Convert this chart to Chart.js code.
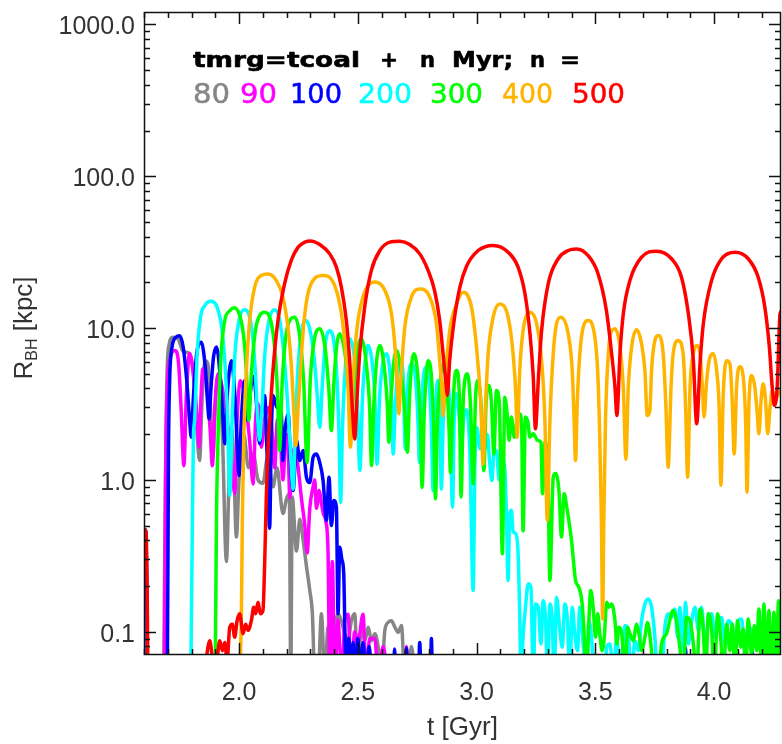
<!DOCTYPE html>
<html><head><meta charset="utf-8">
<script src="https://cdn.jsdelivr.net/npm/chart.js@4.4.0/dist/chart.umd.min.js"></script>
<style>html,body{margin:0;padding:0;background:#fff}#wrap{width:782px;height:744px}</style>
</head><body><div id="wrap"><canvas id="c" width="782" height="744"></canvas></div>
<script>
// ---- data: [t (Gyr), R_BH (kpc)] ----
const legendTitle = 'tmrg=tcoal + n Myr; n =';
const nLabels = ['80','90','100','200','300','400','500'];
const xTickValues = [2.0, 2.5, 3.0, 3.5, 4.0];
const yTickValues = [0.1, 1, 10, 100, 1000];
const xRange = [1.6, 4.282];
const yRange = [0.0702, 1207];

const s500 = [[1.600,0.38],[1.603,0.47],[1.609,0.45],[1.613,0.2],[1.618,0.04],[1.850,0.04],[1.862,0.065],[1.877,0.087],[1.891,0.065],[1.905,0.065],[1.919,0.087],[1.930,0.075],[1.940,0.085],[1.950,0.065],[1.961,0.107],[1.972,0.112],[1.982,0.092],[1.992,0.118],[2.003,0.131],[2.017,0.097],[2.028,0.112],[2.038,0.102],[2.052,0.118],[2.062,0.145],[2.070,0.131],[2.080,0.156],[2.090,0.131],[2.101,0.138],[2.108,0.28],[2.115,0.77],[2.122,1.6],[2.129,2.46],[2.143,5.25],[2.164,11.2],[2.192,19.6],[2.220,27.9],[2.249,34.1],[2.277,36.8],[2.300,37.5],[2.340,35.5],[2.382,30.8],[2.410,25.2],[2.431,18.6],[2.452,11.2],[2.466,6.1],[2.477,3.0],[2.487,1.86],[2.497,3.5],[2.508,6.76],[2.529,13.7],[2.557,23.9],[2.593,32.4],[2.635,36.8],[2.677,37.3],[2.719,35.5],[2.761,30.8],[2.796,24.0],[2.824,17.5],[2.845,11.2],[2.862,6.1],[2.873,4.1],[2.877,3.6],[2.887,6.1],[2.905,11],[2.930,18.6],[2.958,25.5],[3.007,32.4],[3.070,35.0],[3.133,31.6],[3.175,25.2],[3.204,16.8],[3.225,9.2],[3.239,4.75],[3.248,2.17],[3.260,4.51],[3.274,9.6],[3.302,19.6],[3.344,28.6],[3.386,32.4],[3.421,33.2],[3.470,30.0],[3.512,22.7],[3.547,13.0],[3.569,6.76],[3.583,4.08],[3.591,2.65],[3.604,6.76],[3.618,12.4],[3.646,20.6],[3.695,29.3],[3.758,32.1],[3.821,28.6],[3.863,21.6],[3.892,12.4],[3.913,6.1],[3.927,2.34],[3.941,5.81],[3.955,10.7],[3.990,20.6],[4.032,28.6],[4.088,31.6],[4.144,28.6],[4.186,21.6],[4.214,13.7],[4.233,7.48],[4.245,4.08],[4.254,3.09],[4.266,4.08],[4.278,12.4],[4.285,13.0]];

const s400 = [[1.995,0.04],[2.007,0.079],[2.010,0.128],[2.014,0.54],[2.020,1.91],[2.031,5.25],[2.045,11.2],[2.066,18.6],[2.094,22.2],[2.122,22.7],[2.157,20.6],[2.185,16.0],[2.206,10.1],[2.220,5.81],[2.230,3.01],[2.239,1.68],[2.249,3.01],[2.263,6.76],[2.277,12.4],[2.300,19.0],[2.354,22.2],[2.396,20.1],[2.424,14.4],[2.445,8.28],[2.459,4.08],[2.469,1.64],[2.480,4.3],[2.494,9.16],[2.522,16.0],[2.572,20.1],[2.614,17.7],[2.642,12.4],[2.659,6.76],[2.667,4.08],[2.673,2.72],[2.681,4.51],[2.698,10.1],[2.726,16.0],[2.761,18.1],[2.803,16.0],[2.831,10.7],[2.845,6.1],[2.855,3.69],[2.859,2.65],[2.868,4.51],[2.887,9.6],[2.916,14.4],[2.944,17.2],[2.979,13.7],[3.000,7.48],[3.018,3.17],[3.028,1.27],[3.038,3.17],[3.049,6.76],[3.070,11.8],[3.098,14.4],[3.133,11.8],[3.154,6.76],[3.166,3.5],[3.171,1.91],[3.182,5.25],[3.196,9.6],[3.225,12.7],[3.253,10.7],[3.274,6.1],[3.288,2.46],[3.298,0.54],[3.309,2.46],[3.323,6.76],[3.337,10.7],[3.355,11.8],[3.386,9.16],[3.403,5.25],[3.411,2.46],[3.417,1.34],[3.424,3.17],[3.435,6.76],[3.449,10.1],[3.470,11.2],[3.496,9.16],[3.510,5.25],[3.519,1.91],[3.526,0.54],[3.531,0.121],[3.536,0.54],[3.543,2.46],[3.555,6.76],[3.569,9.6],[3.583,9.88],[3.604,7.48],[3.618,4.08],[3.629,1.37],[3.639,4.08],[3.653,7.48],[3.674,9.73],[3.695,7.87],[3.709,5.25],[3.719,2.65],[3.730,2.86],[3.737,5.25],[3.751,8.28],[3.765,8.93],[3.786,6.76],[3.797,3.17],[3.807,1.21],[3.819,4.08],[3.828,6.76],[3.849,8.28],[3.870,6.76],[3.880,3.17],[3.889,1.04],[3.899,4.08],[3.913,6.76],[3.927,7.67],[3.941,6.76],[3.951,4.08],[3.958,2.59],[3.969,4.51],[3.983,6.43],[3.997,6.76],[4.011,5.25],[4.021,3.17],[4.029,0.92],[4.039,3.69],[4.053,6.1],[4.067,5.81],[4.077,3.17],[4.085,1.48],[4.095,4.08],[4.109,5.55],[4.123,4.75],[4.133,2.46],[4.139,0.83],[4.147,3.17],[4.158,4.86],[4.172,4.08],[4.182,2.72],[4.189,2.01],[4.198,3.33],[4.207,4.29],[4.217,3.33],[4.226,2.01],[4.236,3.01],[4.245,3.88],[4.257,3.33],[4.271,3.69],[4.285,3.88]];

const s300 = [[1.895,0.04],[1.900,0.06],[1.905,0.54],[1.912,1.91],[1.923,6.1],[1.940,11.2],[1.961,13.0],[1.979,13.6],[2.003,12.1],[2.020,8.7],[2.031,5.25],[2.041,2.46],[2.052,4.99],[2.069,9.6],[2.087,12.1],[2.108,12.7],[2.129,11.8],[2.147,8.28],[2.161,4.08],[2.171,1.56],[2.181,4.08],[2.195,8.28],[2.213,11.2],[2.235,11.8],[2.255,9.0],[2.272,4.5],[2.287,1.3],[2.300,4.5],[2.318,8.5],[2.340,9.88],[2.362,7.5],[2.378,4.0],[2.389,2.11],[2.400,4.5],[2.412,7.8],[2.424,9.16],[2.445,7.0],[2.462,4.0],[2.473,2.4],[2.485,4.5],[2.498,7.2],[2.515,8.5],[2.535,6.0],[2.550,3.0],[2.558,1.24],[2.568,3.2],[2.580,6.2],[2.593,7.67],[2.610,5.8],[2.624,3.2],[2.631,1.77],[2.640,3.5],[2.652,6.0],[2.663,7.1],[2.680,5.5],[2.697,3.0],[2.709,1.52],[2.718,3.5],[2.727,5.8],[2.736,6.76],[2.752,5.0],[2.763,2.5],[2.771,0.89],[2.780,2.8],[2.790,5.2],[2.796,6.1],[2.810,4.8],[2.820,2.2],[2.827,0.75],[2.836,2.5],[2.850,5.0],[2.862,5.8],[2.876,4.0],[2.885,2.0],[2.890,1.12],[2.898,2.5],[2.910,5.0],[2.916,5.25],[2.928,3.5],[2.935,0.77],[2.945,3.6],[2.962,4.99],[2.975,3.0],[2.986,0.94],[2.996,3.5],[3.007,4.51],[3.020,3.0],[3.031,1.15],[3.041,3.4],[3.052,4.18],[3.063,3.2],[3.073,1.48],[3.084,3.88],[3.096,3.2],[3.109,0.326],[3.119,3.5],[3.130,2.6],[3.137,1.82],[3.147,2.59],[3.159,1.91],[3.170,2.4],[3.182,2.72],[3.190,2.3],[3.196,0.46],[3.206,2.59],[3.216,2.4],[3.225,1.91],[3.239,2.01],[3.257,1.82],[3.271,1.77],[3.278,0.81],[3.288,1.77],[3.299,1.48],[3.309,0.217],[3.323,1.04],[3.333,1.1],[3.347,0.85],[3.358,0.42],[3.369,0.81],[3.380,0.66],[3.400,0.40],[3.417,0.217],[3.431,0.196],[3.445,0.152],[3.453,0.097],[3.463,0.05],[3.473,0.118],[3.481,0.187],[3.491,0.145],[3.501,0.092],[3.510,0.131],[3.519,0.097],[3.529,0.075],[3.538,0.092],[3.548,0.156],[3.557,0.145],[3.569,0.152],[3.583,0.118],[3.591,0.083],[3.599,0.107],[3.613,0.092],[3.625,0.05],[3.636,0.107],[3.646,0.097],[3.660,0.087],[3.674,0.112],[3.684,0.097],[3.695,0.075],[3.709,0.092],[3.720,0.115],[3.734,0.083],[3.748,0.05],[3.765,0.05],[3.779,0.083],[3.800,0.097],[3.828,0.138],[3.842,0.118],[3.856,0.079],[3.870,0.05],[3.884,0.124],[3.899,0.118],[3.913,0.083],[3.927,0.05],[3.941,0.141],[3.955,0.102],[3.965,0.05],[3.976,0.131],[3.990,0.102],[4.001,0.05],[4.015,0.131],[4.029,0.087],[4.039,0.05],[4.053,0.112],[4.067,0.075],[4.077,0.112],[4.088,0.05],[4.099,0.118],[4.113,0.079],[4.123,0.104],[4.133,0.05],[4.144,0.121],[4.158,0.071],[4.170,0.110],[4.179,0.075],[4.189,0.141],[4.200,0.05],[4.210,0.152],[4.221,0.05],[4.231,0.138],[4.243,0.05],[4.252,0.134],[4.264,0.05],[4.271,0.16],[4.280,0.05]];

const s200 = [[1.797,0.05],[1.803,0.4],[1.808,1.9],[1.813,2.46],[1.824,6.76],[1.838,11.8],[1.855,14.0],[1.883,15.0],[1.908,13.7],[1.927,10.1],[1.941,5.81],[1.952,2.46],[1.961,0.79],[1.971,2.46],[1.983,6.76],[2.000,11.2],[2.022,13.2],[2.045,11.8],[2.059,8.28],[2.070,4.75],[2.078,2.6],[2.087,1.82],[2.097,3.0],[2.108,6.5],[2.125,11.0],[2.149,13.2],[2.170,11.5],[2.188,7.0],[2.203,3.5],[2.215,1.7],[2.228,0.87],[2.238,2.5],[2.250,6.0],[2.266,10.0],[2.282,11.2],[2.300,9.5],[2.318,6.0],[2.330,3.5],[2.340,2.22],[2.350,4.0],[2.362,7.5],[2.382,9.6],[2.400,8.0],[2.413,4.5],[2.421,2.0],[2.428,0.71],[2.435,2.0],[2.446,5.0],[2.466,8.5],[2.485,6.5],[2.497,3.5],[2.509,1.15],[2.520,3.5],[2.531,6.0],[2.544,7.67],[2.560,6.0],[2.572,3.5],[2.581,1.27],[2.592,3.5],[2.606,6.0],[2.621,6.76],[2.636,5.0],[2.644,3.0],[2.649,1.48],[2.658,3.0],[2.670,5.5],[2.680,6.2],[2.692,4.5],[2.700,1.6],[2.710,4.0],[2.725,5.8],[2.742,4.8],[2.752,2.8],[2.760,1.3],[2.770,3.5],[2.785,5.5],[2.800,4.5],[2.810,2.2],[2.817,0.85],[2.826,2.5],[2.836,4.5],[2.845,3.0],[2.852,0.87],[2.860,2.5],[2.875,4.4],[2.888,3.0],[2.899,0.66],[2.906,2.5],[2.913,3.7],[2.925,2.8],[2.937,1.73],[2.947,2.6],[2.958,2.9],[2.972,1.5],[2.986,0.187],[2.993,1.2],[3.002,2.2],[3.015,1.6],[3.025,2.0],[3.035,1.6],[3.045,2.0],[3.056,1.28],[3.065,0.99],[3.074,1.56],[3.084,1.56],[3.095,1.0],[3.105,1.4],[3.119,1.18],[3.126,0.6],[3.133,0.217],[3.140,0.6],[3.147,0.63],[3.154,0.46],[3.166,0.44],[3.175,0.33],[3.182,0.13],[3.187,0.05],[3.196,0.092],[3.206,0.145],[3.218,0.207],[3.229,0.196],[3.239,0.05],[3.248,0.152],[3.260,0.145],[3.271,0.083],[3.281,0.16],[3.291,0.118],[3.299,0.05],[3.309,0.152],[3.319,0.118],[3.327,0.05],[3.337,0.168],[3.351,0.102],[3.361,0.079],[3.372,0.152],[3.383,0.118],[3.393,0.05],[3.403,0.145],[3.414,0.097],[3.425,0.075],[3.435,0.145],[3.449,0.083],[3.463,0.05],[3.473,0.118],[3.484,0.092],[3.498,0.05],[3.540,0.05],[3.548,0.079],[3.562,0.083],[3.576,0.05],[3.590,0.092],[3.604,0.05],[3.625,0.11],[3.639,0.097],[3.653,0.05],[3.667,0.087],[3.681,0.075],[3.695,0.118],[3.709,0.152],[3.723,0.164],[3.737,0.145],[3.751,0.092],[3.762,0.05],[3.779,0.05],[3.793,0.107],[3.807,0.131],[3.821,0.124],[3.835,0.141],[3.847,0.092],[3.856,0.145],[3.870,0.075],[3.880,0.156],[3.892,0.083],[3.906,0.118],[3.920,0.145],[3.934,0.102],[3.948,0.145],[3.962,0.079],[3.976,0.118],[3.990,0.131],[4.004,0.092],[4.018,0.118],[4.032,0.124],[4.046,0.083],[4.060,0.118],[4.074,0.112],[4.088,0.087],[4.102,0.118],[4.116,0.121],[4.130,0.075],[4.144,0.107],[4.158,0.102],[4.172,0.083],[4.186,0.102],[4.200,0.092],[4.214,0.097],[4.228,0.087],[4.243,0.092],[4.257,0.083],[4.271,0.087],[4.285,0.092]];

const s100 = [[1.600,0.47],[1.606,0.47],[1.611,0.25],[1.615,0.04],[1.698,0.05],[1.703,1.5],[1.708,4.5],[1.718,7.5],[1.735,8.7],[1.750,8.9],[1.765,7.5],[1.780,4.5],[1.792,2.5],[1.799,1.91],[1.808,3.5],[1.822,6.8],[1.841,8.07],[1.858,5.5],[1.868,3.2],[1.874,2.52],[1.882,4.0],[1.893,6.5],[1.905,7.5],[1.920,5.0],[1.932,2.6],[1.940,1.73],[1.950,3.5],[1.968,6.1],[1.983,3.5],[1.994,1.5],[2.000,1.07],[2.010,2.5],[2.024,4.5],[2.032,3.2],[2.038,2.46],[2.048,3.8],[2.062,4.8],[2.075,3.0],[2.087,1.73],[2.098,3.0],[2.108,3.6],[2.118,1.5],[2.129,0.48],[2.136,2.0],[2.143,3.6],[2.160,3.0],[2.178,2.73],[2.185,1.34],[2.195,2.2],[2.207,2.73],[2.218,1.2],[2.228,0.85],[2.242,1.82],[2.256,1.34],[2.270,1.56],[2.284,1.04],[2.298,0.96],[2.312,1.41],[2.326,1.48],[2.340,1.3],[2.354,0.99],[2.368,0.54],[2.379,1.04],[2.389,0.5],[2.399,0.73],[2.410,0.66],[2.417,0.131],[2.424,0.36],[2.433,0.3],[2.441,0.24],[2.448,0.07],[2.455,0.05],[2.462,0.09],[2.470,0.05],[2.480,0.085],[2.490,0.05],[2.500,0.09],[2.510,0.05],[2.522,0.085],[2.535,0.05],[2.548,0.08],[2.560,0.05],[2.650,0.05],[2.655,0.077],[2.660,0.05],[2.700,0.05],[2.705,0.078],[2.710,0.05],[2.755,0.05],[2.761,0.085],[2.767,0.05],[2.806,0.05],[2.810,0.09],[2.815,0.05],[3.875,0.05],[3.880,0.078],[3.885,0.05],[4.155,0.05],[4.160,0.078],[4.165,0.05]];

const s90 = [[1.686,0.05],[1.692,1.5],[1.699,4.5],[1.712,6.5],[1.730,7.1],[1.745,6.0],[1.756,3.0],[1.768,1.24],[1.778,3.5],[1.792,6.8],[1.808,5.0],[1.822,2.8],[1.832,1.64],[1.840,3.5],[1.848,5.4],[1.862,4.5],[1.878,2.2],[1.888,1.24],[1.898,3.0],[1.912,5.0],[1.930,4.0],[1.950,2.5],[1.970,1.3],[1.982,0.81],[1.992,2.5],[2.006,4.5],[2.025,3.5],[2.045,1.8],[2.059,0.94],[2.070,2.5],[2.080,3.2],[2.094,1.64],[2.108,2.5],[2.125,3.0],[2.140,2.0],[2.150,1.2],[2.162,2.5],[2.172,2.2],[2.185,1.0],[2.198,2.0],[2.206,1.8],[2.214,0.76],[2.225,1.4],[2.235,1.64],[2.249,1.2],[2.263,0.75],[2.277,0.5],[2.287,0.33],[2.298,0.65],[2.312,0.9],[2.319,1.0],[2.326,0.65],[2.337,0.85],[2.347,0.7],[2.355,0.6],[2.365,0.54],[2.375,0.33],[2.382,0.05],[2.393,0.29],[2.403,0.05],[2.417,0.12],[2.424,0.08],[2.435,0.05],[2.445,0.12],[2.459,0.13],[2.473,0.05],[2.487,0.10],[2.501,0.085],[2.522,0.13],[2.536,0.05],[2.550,0.09],[2.572,0.09],[2.586,0.05],[2.607,0.08],[2.628,0.05],[2.700,0.05],[2.705,0.08],[2.712,0.05]];

const s80 = [[1.683,0.05],[1.690,1.0],[1.697,5.0],[1.706,7.8],[1.722,8.7],[1.743,8.5],[1.765,7.0],[1.792,6.8],[1.810,4.5],[1.822,2.2],[1.834,1.34],[1.845,3.5],[1.858,6.1],[1.869,5.8],[1.880,3.0],[1.890,1.41],[1.902,3.5],[1.915,5.0],[1.930,2.0],[1.947,0.29],[1.958,1.0],[1.968,2.2],[1.978,1.2],[1.989,0.42],[2.000,1.0],[2.020,2.0],[2.040,1.2],[2.060,1.5],[2.080,1.0],[2.101,0.95],[2.120,1.4],[2.143,0.9],[2.160,1.2],[2.185,0.6],[2.200,0.75],[2.212,0.81],[2.218,0.05],[2.224,0.77],[2.242,0.34],[2.256,0.55],[2.270,0.40],[2.284,0.27],[2.298,0.187],[2.309,0.131],[2.319,0.05],[2.333,0.05],[2.347,0.131],[2.361,0.05],[2.375,0.107],[2.389,0.087],[2.403,0.112],[2.417,0.131],[2.431,0.118],[2.445,0.097],[2.459,0.087],[2.473,0.118],[2.487,0.131],[2.501,0.05],[2.515,0.107],[2.530,0.087],[2.544,0.107],[2.558,0.087],[2.572,0.097],[2.586,0.079],[2.600,0.05],[2.614,0.102],[2.628,0.115],[2.642,0.118],[2.656,0.107],[2.670,0.099],[2.684,0.110],[2.698,0.05],[2.712,0.05],[2.726,0.08],[2.740,0.05]];

// ---- styles ----
const seriesList = [s80, s90, s100, s200, s300, s400, s500];
const seriesColors = ['#868686', '#ff00ff', '#0000ff', '#00ffff', '#00ff00', '#ffb400', '#ff0000'];
const legendX = [[193,230],[240,277],[290,342],[358,412],[430,483],[502,553],[572,625]];
const titleParts = [['tmrg=tcoal',193,360],['+',380,398],['n',420,435],['Myr;',452,513],['n',530,545],['=',560,580]];
const TXT = '#333333';
const FONT = '"Liberation Sans", Arial, Helvetica, sans-serif';

// red first so it is drawn on top; gray last
const datasets = [];
for (let i = seriesList.length - 1; i >= 0; i--) {
  datasets.push({
    label: nLabels[i],
    data: seriesList[i].map(p => ({x: p[0], y: p[1]})),
    borderColor: seriesColors[i],
    borderWidth: 3.5,
    pointRadius: 0,
    fill: false,
    cubicInterpolationMode: 'monotone',
    clip: 0
  });
}

function fitText(ctx, text, x0, x1, base, strokeW) {
  const w = ctx.measureText(text).width;
  ctx.save();
  ctx.translate(x0, base);
  ctx.scale((x1 - x0) / w, 1);
  ctx.fillText(text, 0, 0);
  if (strokeW) { ctx.lineWidth = strokeW; ctx.lineJoin = 'round'; ctx.strokeText(text, 0, 0); }
  ctx.restore();
}

const decor = {
  id: 'decor',
  afterDatasetsDraw(chart) {
    const {ctx, chartArea: a, scales: {x, y}} = chart;
    ctx.save();
    ctx.strokeStyle = '#111';
    ctx.lineWidth = 1.5;
    ctx.strokeRect(a.left + 0.5, a.top + 0.5, a.right - a.left - 1, a.bottom - a.top - 1);
    const seg = (x1, y1, x2, y2) => { ctx.beginPath(); ctx.moveTo(x1, y1); ctx.lineTo(x2, y2); ctx.stroke(); };
    for (let k = 16; k <= 43; k++) {
      const v = k / 10;
      if (v < x.min || v > x.max) continue;
      const px = Math.round(x.getPixelForValue(v)) + 0.5;
      const len = (k % 5 === 0) ? 12 : 6;
      seg(px, a.bottom, px, a.bottom - len);
      seg(px, a.top, px, a.top + len);
    }
    for (let e = -2; e <= 3; e++) {
      for (let m = 1; m <= 9; m++) {
        const v = m * Math.pow(10, e);
        if (v < y.min || v > y.max) continue;
        const py = Math.round(y.getPixelForValue(v)) + 0.5;
        const len = m === 1 ? 12 : 6;
        seg(a.left, py, a.left + len, py);
        seg(a.right, py, a.right - len, py);
      }
    }
    ctx.restore();
  },
  afterDraw(chart) {
    const {ctx, chartArea: a} = chart;
    ctx.save();
    ctx.textAlign = 'left';
    ctx.textBaseline = 'alphabetic';
    // legend block
    ctx.fillStyle = '#000';
    ctx.strokeStyle = '#000';
    ctx.font = 'bold 21px "DejaVu Sans", sans-serif';
    const words = legendTitle.split(' ');
    titleParts.forEach((p, i) => fitText(ctx, words[i], p[1], p[2], 67, 0.6));
    ctx.font = '27px "DejaVu Sans", sans-serif';
    nLabels.forEach((lab, i) => {
      ctx.fillStyle = seriesColors[i];
      ctx.strokeStyle = seriesColors[i];
      fitText(ctx, lab, legendX[i][0], legendX[i][1], 103, 0.5);
    });
    // x title
    ctx.fillStyle = TXT;
    ctx.font = '26px ' + FONT;
    ctx.textAlign = 'center';
    ctx.fillText('t [Gyr]', (a.left + a.right) / 2, 735);
    // y title with subscript
    ctx.textAlign = 'left';
    ctx.translate(32, 328);
    ctx.rotate(-Math.PI / 2);
    const f1 = '26px ' + FONT, f2 = '16px ' + FONT;
    ctx.font = f1;
    const wR = ctx.measureText('R').width, wK = ctx.measureText(' [kpc]').width;
    ctx.font = f2;
    const wB = ctx.measureText('BH').width;
    let xx = -(wR + wB + wK) / 2;
    ctx.font = f1; ctx.fillText('R', xx, 0); xx += wR;
    ctx.font = f2; ctx.fillText('BH', xx, 5); xx += wB;
    ctx.font = f1; ctx.fillText(' [kpc]', xx, 0);
    ctx.restore();
  }
};

new Chart(document.getElementById('c'), {
  type: 'line',
  data: {datasets},
  plugins: [decor],
  options: {
    responsive: false,
    animation: false,
    devicePixelRatio: 1,
    layout: {padding: {top: 12, right: 1, left: 0, bottom: 0}},
    plugins: {legend: {display: false}, tooltip: {enabled: false}},
    scales: {
      x: {
        type: 'linear', position: 'bottom', min: xRange[0], max: xRange[1],
        grid: {display: false, drawTicks: false}, border: {display: false},
        afterBuildTicks: s => { s.ticks = xTickValues.map(v => ({value: v})); },
        afterFit: s => { s.height = 89; s.paddingLeft = 0; s.paddingRight = 0; },
        ticks: {autoSkip: false, maxRotation: 0, padding: 23, color: TXT,
          font: {family: FONT, size: 25}, callback: v => Number(v).toFixed(1)}
      },
      y: {
        type: 'logarithmic', position: 'left', min: yRange[0], max: yRange[1],
        grid: {display: false, drawTicks: false}, border: {display: false},
        afterBuildTicks: s => { s.ticks = yTickValues.map(v => ({value: v})); },
        afterFit: s => { s.width = 144; s.paddingTop = 0; s.paddingBottom = 0; },
        ticks: {autoSkip: false, padding: 9, labelOffset: 3, color: TXT,
          font: {family: FONT, size: 25}, callback: v => Number(v).toFixed(1)}
      }
    }
  }
});
</script></body></html>
